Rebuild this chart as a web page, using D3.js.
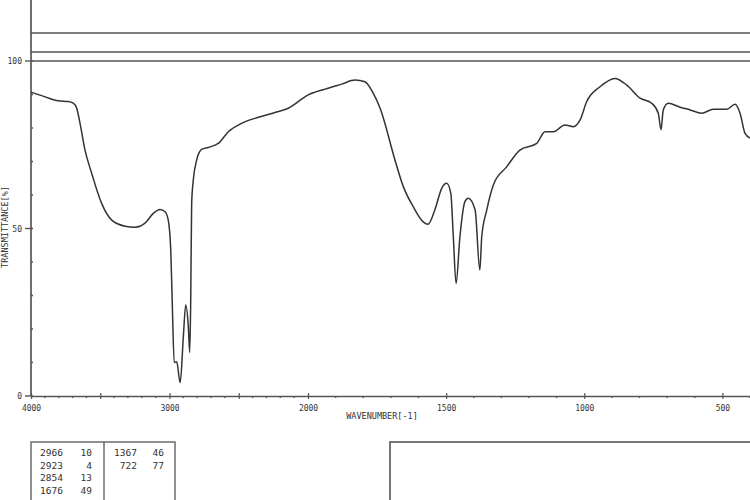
<!DOCTYPE html>
<html><head><meta charset="utf-8">
<script src="https://cdn.jsdelivr.net/npm/d3@7"></script>
<style>
html,body{margin:0;padding:0;background:#fff;}
svg{display:block;}
text{font-family:"DejaVu Sans Mono",monospace;fill:#333;}
</style></head>
<body><svg id="c" width="750" height="500"></svg>
<script>
// Wavenumber (cm-1) and transmittance (%)
const wavenumber = [4000,3899,3803,3731,3695,3670,3646,3610,3562,3490,3417,3321,3249,3177,3117,3069,3032,3009,2991,2980,2966,2948,2923,2900,2883,2864,2854,2847,2840,2828,2804,2768,2720,2648,2575,2479,2359,2238,2142,1999,1938,1878,1830,1794,1764,1739,1685,1655,1619,1583,1565,1541,1516,1498,1483,1474,1464,1450,1432,1420,1395,1378,1371,1353,1329,1281,1233,1172,1142,1112,1070,1040,1015,991,943,889,846,798,756,732,722,714,696,653,617,575,533,484,454,436,418,400];
const transmittance = [90.7,89.3,88.1,87.9,87.4,85.9,81.4,73.4,66.5,57.5,52.5,50.7,50.4,51.6,54.5,55.7,55.0,52.5,43.6,27.7,10.0,10.2,4.0,17.7,27.2,20.7,13.0,27.8,57.5,64.5,70.4,73.6,74.2,75.4,78.9,81.4,83.2,84.6,85.9,89.9,91.6,93.1,94.3,93.8,90.4,85.9,70.4,62.5,56.5,52.0,51.3,55.5,62.0,63.5,60.5,47.6,33.6,47.6,58.0,59.0,55.5,37.6,47.6,55.5,63.0,68.4,73.4,75.4,78.9,78.9,80.9,80.4,82.4,87.9,92.3,94.8,92.8,88.9,87.4,84.4,79.5,85.4,87.4,86.2,85.4,84.4,85.6,85.6,87.1,84.4,78.4,77.0];

const yTicksLabelled = [0,50,100];
const xMajorTicks = [4000,3500,3000,2500,2000,1500,1000,500];
const xTickLabels = {4000:"4000",3000:"3000",2000:"2000",1500:"1500",1000:"1000",500:"500"};

// Peak table
const peakWn1 = ["2966","2923","2854","1676"];
const peakT1 = ["10","4","13","49"];
const peakWn2 = ["1367","722"];
const peakT2 = ["46","77"];

const svg = d3.select("#c");
const ink = "#555";
const x = d3.scaleLinear().domain([4000,2000,400]).range([31,308,750]);
const y = d3.scaleLinear().domain([0,100]).range([396,61]);

// header lines
[33,52].forEach(v=>{
  svg.append("line").attr("x1",31).attr("x2",750).attr("y1",v).attr("y2",v)
    .attr("stroke",ink).attr("stroke-width",1.7);
});
svg.append("line").attr("x1",31).attr("x2",750).attr("y1",y(100)).attr("y2",y(100))
  .attr("stroke",ink).attr("stroke-width",1.7);
// left vertical line
svg.append("line").attr("x1",31).attr("x2",31).attr("y1",0).attr("y2",y(0))
  .attr("stroke",ink).attr("stroke-width",1.7);

// y axis ticks
const yMinor = d3.range(0,101,10);
svg.selectAll(".ym").data(yMinor).join("line")
  .attr("x1",31).attr("x2",33).attr("y1",d=>y(d)).attr("y2",d=>y(d))
  .attr("stroke",ink).attr("stroke-width",1.4);
svg.selectAll(".yM").data(yTicksLabelled).join("line")
  .attr("x1",25).attr("x2",31).attr("y1",d=>y(d)).attr("y2",d=>y(d))
  .attr("stroke",ink).attr("stroke-width",1.4);
svg.selectAll(".yl").data(yTicksLabelled).join("text")
  .attr("x",22).attr("y",d=>y(d)+3).attr("text-anchor","end")
  .attr("font-size",8).text(d=>d);

// x axis
const xAxis = d3.axisBottom(x).tickValues(xMajorTicks)
  .tickFormat(d=>xTickLabels[d]||"").tickSizeInner(3).tickSizeOuter(0).tickPadding(6);
const gx = svg.append("g").attr("transform",`translate(0,${y(0)})`).call(xAxis);
gx.select(".domain").attr("stroke",ink).attr("stroke-width",1.7);
gx.selectAll(".tick line").attr("stroke",ink).attr("stroke-width",1.2).attr("y1",-3);
gx.selectAll(".tick text").attr("font-size",8).attr("fill","#333").attr("font-family","DejaVu Sans Mono");
const xMinor = d3.range(4000,399,-100).filter(d=>d%500!==0);
svg.selectAll(".xm").data(xMinor).join("line")
  .attr("x1",d=>x(d)).attr("x2",d=>x(d)).attr("y1",y(0)).attr("y2",y(0)+2)
  .attr("stroke",ink).attr("stroke-width",1.4);

svg.append("text").attr("x",382).attr("y",419).attr("text-anchor","middle")
  .attr("font-size",8.5).text("WAVENUMBER[-1]");
svg.append("text").attr("transform","translate(8,227) rotate(-90)")
  .attr("text-anchor","middle").attr("font-size",8.5).text("TRANSMITTANCE[%]");

// spectrum
const pts = wavenumber.map((w,i)=>[w,transmittance[i]]);
svg.append("path").datum(pts)
  .attr("fill","none").attr("stroke","#333").attr("stroke-width",1.5)
  .attr("stroke-linejoin","round")
  .attr("d",d3.line().x(d=>x(d[0])).y(d=>y(d[1])).curve(d3.curveMonotoneX));

// peak table
svg.append("rect").attr("x",31).attr("y",442).attr("width",144).attr("height",80)
  .attr("fill","none").attr("stroke",ink).attr("stroke-width",1.3);
svg.append("line").attr("x1",104).attr("x2",104).attr("y1",442).attr("y2",500)
  .attr("stroke",ink).attr("stroke-width",1.3);
const rowY = i=>456+i*12.7;
svg.selectAll(".w1").data(peakWn1).join("text").attr("x",40).attr("y",(d,i)=>rowY(i))
  .attr("font-size",9.5).text(d=>d);
svg.selectAll(".t1").data(peakT1).join("text").attr("x",92).attr("y",(d,i)=>rowY(i))
  .attr("text-anchor","end").attr("font-size",9.5).text(d=>d);
svg.selectAll(".w2").data(peakWn2).join("text").attr("x",137).attr("y",(d,i)=>rowY(i))
  .attr("text-anchor","end").attr("font-size",9.5).text(d=>d);
svg.selectAll(".t2").data(peakT2).join("text").attr("x",164).attr("y",(d,i)=>rowY(i))
  .attr("text-anchor","end").attr("font-size",9.5).text(d=>d);

// right empty box
svg.append("rect").attr("x",390).attr("y",442).attr("width",400).attr("height",100)
  .attr("fill","none").attr("stroke",ink).attr("stroke-width",1.6);
</script></body></html>
